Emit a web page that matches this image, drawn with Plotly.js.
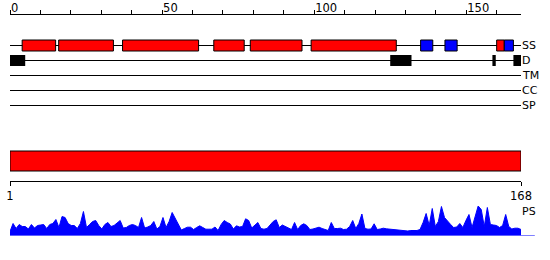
<!DOCTYPE html>
<html>
<head>
<meta charset="utf-8">
<script src="https://cdn.plot.ly/plotly-3.0.1.min.js"></script>
<style>html,body{margin:0;padding:0;background:#fff;}#chart{width:550px;height:260px;}</style>
</head>
<body>
<div id="chart"></div>
<script>
// ---- data ----
const seqLength = 168;
const trackLabels = ['SS', 'D', 'TM', 'CC', 'SP'];
const helixStart = [4, 16, 37, 67, 79, 99, 160];
const helixEnd   = [15, 34, 62, 77, 96, 127, 162.5];
const strandStart = [135, 143, 162.5];
const strandEnd   = [139, 147, 165.5];
const disorderStart = [0, 125, 158.6, 165.5];
const disorderEnd   = [5, 132, 159.7, 168];
const domainStart = [1];
const domainEnd = [168];
const topTickVals = [0, 10, 20, 30, 40, 50, 60, 70, 80, 90, 100, 110, 120, 130, 140, 150, 160];
const topTickText = ['0', '', '', '', '', '50', '', '', '', '', '100', '', '', '', '', '150', ''];
const bottomTickVals = [1, 168];
const bottomTickText = ['1', '168'];
const psLabel = 'PS';
const psValues = [
  4, 12, 7, 11, 9, 9, 6.5, 11, 7.5, 10,
  10.5, 11, 7, 11, 12, 16, 8, 19, 18, 12,
  10, 10, 7, 12, 24, 8, 11, 14, 15, 10,
  6.5, 11, 13, 9, 10, 13, 15, 7.5, 8, 10,
  11, 10, 8,
  18, 7.5, 8.5, 10, 14, 6.5, 9, 18, 8, 14,
  23, 17, 10, 5.5, 7, 8.3, 8.3, 6, 8, 9.7,
  8, 6.3, 6.3, 6.3, 8.5, 5, 11, 15, 13, 11.5,
  6.5, 9.7, 8.5, 9, 16.7, 15, 7.5, 10, 13, 7,
  6.3,
  7, 10, 14, 15.7, 8, 10.5, 9, 7.5, 6, 13,
  6, 10, 11.7, 10, 6, 6.5, 7.5, 8.3, 7, 6,
  5, 13, 7, 7, 7.3, 6, 6.3, 9, 15, 7,
  12, 21.5, 7, 6.3, 6.5, 11.7, 6, 6.5, 7.3, 6.7,
  6.3, 6.3, 5.7,
  5.5, 5, 4.5, 4.5, 5, 5, 5, 6, 13, 22,
  10, 27, 9, 14, 29, 18, 14, 11, 8, 8.5,
  12, 8, 15, 21, 8, 18, 29.5, 26, 9, 28,
  11, 10.5, 10, 8, 10, 21, 9, 6.5, 7.3, 7.3,
  6
];

// ---- build ----
const FONT = 'DejaVu Sans';
const half = 5.5 / 15;
const shapes = [];
trackLabels.forEach((lab, i) => {
  shapes.push({type: 'line', xref: 'x', yref: 'y', x0: 0, x1: seqLength, y0: i, y1: i,
    line: {color: '#000', width: 1}});
});
helixStart.forEach((s, i) => {
  shapes.push({type: 'rect', xref: 'x', yref: 'y', x0: s, x1: helixEnd[i], y0: -half, y1: half,
    fillcolor: '#ff0000', line: {color: '#000', width: 1}});
});
strandStart.forEach((s, i) => {
  shapes.push({type: 'rect', xref: 'x', yref: 'y', x0: s, x1: strandEnd[i], y0: -half, y1: half,
    fillcolor: '#0000ff', line: {color: '#000', width: 1}});
});
disorderStart.forEach((s, i) => {
  shapes.push({type: 'rect', xref: 'x', yref: 'y', x0: s, x1: disorderEnd[i], y0: 1 - half, y1: 1 + half,
    fillcolor: '#000', line: {width: 0}});
});
domainStart.forEach((s, i) => {
  shapes.push({type: 'rect', xref: 'x2', yref: 'y2', x0: s, x1: domainEnd[i], y0: 0, y1: 1,
    fillcolor: '#ff0000', line: {color: '#000', width: 1}});
});
shapes.push({type: 'line', xref: 'paper', yref: 'y3', x0: 0, x1: 1.027, y0: 0, y1: 0,
  line: {color: '#0000ff', width: 1}});

const annotations = trackLabels.map((lab, i) => ({
  x: seqLength, xref: 'x', y: i, yref: 'y', text: lab, showarrow: false,
  xanchor: 'left', yanchor: 'middle', xshift: -1,
  font: {family: FONT, size: 11, color: '#000'}
}));
annotations.push({x: 1, xref: 'paper', y: 1 - 211.5 / 260, yref: 'paper', text: psLabel,
  showarrow: false, xanchor: 'left', yanchor: 'middle', xshift: -1,
  font: {family: FONT, size: 11, color: '#000'}});

const residues = psValues.map((v, i) => i + 1);
const traces = [{
  type: 'scatter', mode: 'lines', x: residues, y: psValues, xaxis: 'x2', yaxis: 'y3',
  fill: 'tozeroy', fillcolor: '#0000ff', line: {color: '#0000ff', width: 1},
  hoverinfo: 'skip'
}];

const tickFont = {family: FONT, size: 11.5, color: '#000'};
const layout = {
  width: 550, height: 260,
  margin: {l: 10, r: 29, t: 0, b: 0, pad: 0},
  paper_bgcolor: '#fff', plot_bgcolor: '#fff',
  showlegend: false,
  xaxis: {
    range: [0, seqLength], domain: [0, 1], anchor: 'y', side: 'top',
    showline: true, linecolor: '#000', linewidth: 1,
    ticks: 'outside', ticklen: 4, tickwidth: 1, tickcolor: '#000',
    tickmode: 'array', tickvals: topTickVals, ticktext: topTickText,
    ticklabelposition: 'outside right', ticklabelstandoff: -3,
    showgrid: false, zeroline: false, tickfont: tickFont, fixedrange: true
  },
  yaxis: {
    domain: [1 - 135 / 260, 1 - 15 / 260], range: [(135 - 45.5) / 15, (15 - 45.5) / 15],
    visible: false, fixedrange: true
  },
  xaxis2: {
    range: [1, seqLength], domain: [0, 1], anchor: 'y2', side: 'bottom',
    showline: true, linecolor: '#000', linewidth: 1,
    ticks: 'outside', ticklen: 4, tickwidth: 1, tickcolor: '#000',
    tickmode: 'array', tickvals: bottomTickVals, ticktext: bottomTickText,
    showgrid: false, zeroline: false, tickfont: tickFont, fixedrange: true
  },
  yaxis2: {
    domain: [1 - 181 / 260, 1 - 141 / 260], range: [-0.5, 1.5],
    visible: false, fixedrange: true
  },
  yaxis3: {
    domain: [1 - 235.5 / 260, 1 - 195 / 260], range: [0, 40.5], anchor: 'x2',
    visible: false, fixedrange: true
  },
  shapes: shapes,
  annotations: annotations
};

Plotly.newPlot('chart', traces, layout, {displayModeBar: false, staticPlot: true});
</script>
</body>
</html>
